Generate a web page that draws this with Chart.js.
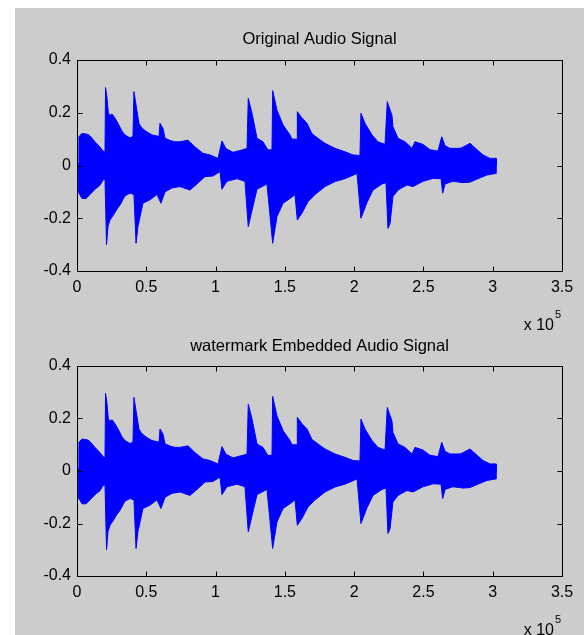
<!DOCTYPE html>
<html lang="en">
<head>
  <meta charset="UTF-8" />
  <title>Original vs Watermarked Audio Signal</title>
  <script src="https://cdn.jsdelivr.net/npm/chart.js"></script>
  <style>
    html, body { margin: 0; padding: 0; background: #fff; }
    body { width: 584px; height: 635px; position: relative; overflow: hidden; }
    #fig { position: absolute; left: 15px; top: 8px; width: 569px; height: 627px; background: #cccccc; }
    canvas { position: absolute; left: 0; }
    #c1 { top: 0; }
    #c2 { top: 325px; }
  </style>
</head>
<body>
  <div id="fig">
    <canvas id="c1" width="569" height="325"></canvas>
    <canvas id="c2" width="569" height="302"></canvas>
  </div>

  <script>
    // envelope of the waveform (sample index, amplitude)
    const upperIdx = [0, 1200, 1400, 3600, 7900, 9400, 13000, 16600, 18800, 20200,
      20600, 21600, 22600, 23800, 25300, 27400, 29600, 32500, 34600, 38200,
      40400, 41100, 42600, 44700, 46200, 48400, 51200, 54100, 59200, 59900,
      62100, 63500, 67100, 70700, 74300, 80100, 85200, 90900, 96000, 101800,
      104600, 107500, 112600, 119800, 122700, 123600, 126300, 129900, 134200, 137800,
      140700, 141200, 144300, 148700, 153700, 155200, 158800, 159000, 162400, 166000,
      169600, 173900, 179000, 186200, 193400, 199200, 204200, 204900, 207800, 212900,
      217200, 222300, 223900, 227300, 228000, 231700, 236700, 241800, 243900, 249700,
      254700, 260500, 263200, 265600, 269200, 276400, 278600, 283600, 288700, 293000,
      298000, 302400, 302600];
    const upperAmp = [0, 0, 0.109, 0.122, 0.118, 0.112, 0.09, 0.07, 0.055, 0.05,
      0.296, 0.26, 0.2, 0.19, 0.195, 0.18, 0.16, 0.13, 0.116, 0.105,
      0.11, 0.28, 0.23, 0.16, 0.147, 0.135, 0.125, 0.116, 0.11, 0.16,
      0.14, 0.104, 0.095, 0.09, 0.09, 0.096, 0.07, 0.046, 0.04, 0.027,
      0.093, 0.064, 0.05, 0.06, 0.065, 0.255, 0.198, 0.103, 0.09, 0.059,
      0.06, 0.284, 0.21, 0.154, 0.116, 0.1, 0.1, 0.204, 0.18, 0.16,
      0.12, 0.103, 0.084, 0.065, 0.052, 0.04, 0.038, 0.198, 0.16, 0.116,
      0.09, 0.08, 0.242, 0.19, 0.147, 0.103, 0.09, 0.065, 0.09, 0.08,
      0.06, 0.055, 0.109, 0.075, 0.065, 0.065, 0.07, 0.084, 0.06, 0.04,
      0.027, 0.027, 0];

    const lowerIdx = [0, 1200, 1400, 3600, 6500, 9400, 13000, 16600, 18800, 20200,
      21300, 22400, 23800, 26000, 28900, 31000, 34600, 38200, 41100, 42600,
      44000, 47600, 52700, 57700, 60600, 63500, 68600, 74300, 81500, 86600,
      92400, 98100, 103200, 104600, 108200, 115500, 121200, 123600, 126300, 129900,
      137100, 141200, 144300, 148700, 153700, 157300, 159000, 162400, 166700, 171800,
      179000, 186200, 193400, 202100, 204900, 209300, 213600, 220100, 223000, 224400,
      225900, 228000, 231700, 238100, 242500, 249700, 256900, 262700, 263900, 265600,
      271300, 278600, 283600, 289400, 295900, 302400, 302600];
    const lowerAmp = [0, 0, -0.105, -0.125, -0.125, -0.11, -0.09, -0.075, -0.055, -0.052,
      -0.30, -0.23, -0.207, -0.19, -0.165, -0.15, -0.115, -0.105, -0.11, -0.295,
      -0.23, -0.143, -0.13, -0.11, -0.143, -0.10, -0.085, -0.08, -0.093, -0.07,
      -0.042, -0.04, -0.023, -0.09, -0.06, -0.05, -0.06, -0.232, -0.17, -0.09,
      -0.07, -0.295, -0.194, -0.143, -0.125, -0.11, -0.207, -0.18, -0.137, -0.11,
      -0.08, -0.061, -0.05, -0.03, -0.2, -0.14, -0.093, -0.07, -0.065, -0.238,
      -0.22, -0.118, -0.093, -0.074, -0.08, -0.06, -0.049, -0.05, -0.105, -0.07,
      -0.06, -0.065, -0.063, -0.05, -0.036, -0.03, 0];

    const xTicks = [0, 50000, 100000, 150000, 200000, 250000, 300000, 350000];
    const xTickLabels = ['0', '0.5', '1', '1.5', '2', '2.5', '3', '3.5'];
    const yTicks = [-0.4, -0.2, 0, 0.2, 0.4];
    const yTickLabels = ['-0.4', '-0.2', '0', '0.2', '0.4'];

    const FONT = '"Liberation Sans", Arial, sans-serif';

    const toPoints = (idx, amp) => idx.map((v, i) => ({ x: v, y: amp[i] }));

    // MATLAB-style box with inward ticks and the x10^5 multiplier
    const framePlugin = {
      id: 'frame',
      afterDatasetsDraw(chart) {
        const { ctx, chartArea: a, scales: { x, y } } = chart;
        const L = Math.round(a.left) + 0.5, R = Math.round(a.right) + 0.5;
        const T = Math.round(a.top) + 0.5, B = Math.round(a.bottom) + 0.5;
        ctx.save();
        ctx.strokeStyle = '#000';
        ctx.lineWidth = 1;
        ctx.beginPath();
        xTicks.forEach(v => {
          const px = Math.round(x.getPixelForValue(v)) + 0.5;
          ctx.moveTo(px, B); ctx.lineTo(px, B - 5);
          ctx.moveTo(px, T); ctx.lineTo(px, T + 5);
        });
        yTicks.forEach(v => {
          const py = Math.round(y.getPixelForValue(v)) + 0.5;
          ctx.moveTo(L, py); ctx.lineTo(L + 5, py);
          ctx.moveTo(R, py); ctx.lineTo(R - 5, py);
        });
        ctx.stroke();
        ctx.strokeRect(L, T, R - L, B - T);

        ctx.fillStyle = '#000';
        ctx.textAlign = 'right';
        ctx.textBaseline = 'alphabetic';
        ctx.font = '16px ' + FONT;
        ctx.fillText('x 10', a.right - 8, a.bottom + 59);
        ctx.font = '11px ' + FONT;
        ctx.fillText('5', a.right - 1, a.bottom + 47);
        ctx.restore();
      }
    };

    function makeChart(id, title, titlePad, axisHeight) {
      return new Chart(document.getElementById(id), {
        type: 'line',
        data: {
          datasets: [
            // fill slightly past zero so the two halves overlap without a seam
            { data: toPoints(upperIdx, upperAmp), fill: { value: -0.01 } },
            { data: toPoints(lowerIdx, lowerAmp), fill: { value: 0.01 } }
          ]
        },
        options: {
          responsive: false,
          animation: false,
          events: [],
          layout: { padding: { left: 0, right: 22, top: 0, bottom: 0 } },
          elements: {
            line: { borderColor: '#0000ff', backgroundColor: '#0000ff', borderWidth: 1, tension: 0 },
            point: { radius: 0 }
          },
          scales: {
            x: {
              type: 'linear',
              min: 0,
              max: 350000,
              grid: { display: false, drawTicks: false },
              border: { display: false },
              afterBuildTicks: s => { s.ticks = xTicks.map(v => ({ value: v })); },
              afterFit: s => { s.height = axisHeight; },
              ticks: {
                padding: 7,
                maxRotation: 0,
                autoSkip: false,
                color: '#000',
                font: { family: FONT, size: 16 },
                callback: (v, i) => xTickLabels[i]
              }
            },
            y: {
              type: 'linear',
              min: -0.4,
              max: 0.4,
              grid: { display: false, drawTicks: false },
              border: { display: false },
              afterBuildTicks: s => { s.ticks = yTicks.map(v => ({ value: v })); },
              afterFit: s => { s.width = 62; },
              ticks: {
                padding: 6,
                autoSkip: false,
                color: '#000',
                font: { family: FONT, size: 16 },
                callback: (v, i) => yTickLabels[i]
              }
            }
          },
          plugins: {
            legend: { display: false },
            tooltip: { enabled: false },
            title: {
              display: true,
              text: title,
              fullSize: false,
              color: '#000',
              font: { family: FONT, size: 16.5, weight: 'normal' },
              padding: titlePad
            }
          }
        },
        plugins: [framePlugin]
      });
    }

    makeChart('c1', 'Original Audio Signal', { top: 22, bottom: 10.2 }, 62);
    makeChart('c2', 'watermark Embedded Audio Signal', { top: 3.4, bottom: 9.8 }, 59);
  </script>
</body>
</html>
